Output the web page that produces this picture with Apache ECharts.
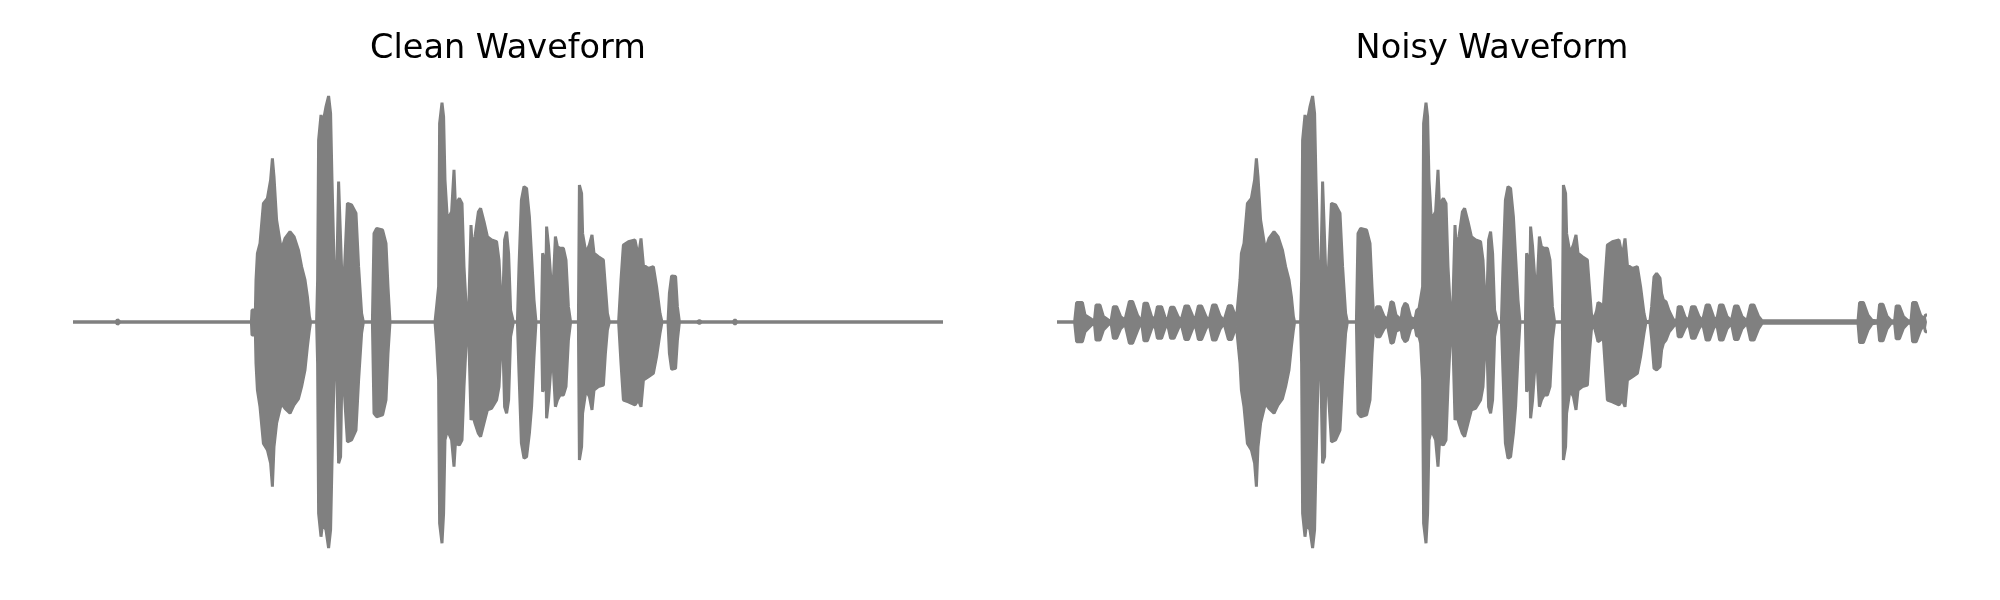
<!DOCTYPE html>
<html>
<head>
<meta charset="utf-8">
<script src="https://cdn.jsdelivr.net/npm/echarts@6/dist/echarts.min.js"></script>
<style>html,body{margin:0;padding:0;background:#fff}#c{width:2000px;height:600px}</style>
</head>
<body>
<div id="c"></div>
<script>
// Panel titles
const titles = ['Clean Waveform', 'Noisy Waveform'];

// Waveform envelopes: [time (s), upper amplitude, lower amplitude]
const cleanWave = [
[0.000,0,0],[0.215,0,0],[0.222,0.010,-0.010],[0.228,0.010,-0.010],[0.235,0,0],
[0.892,0,0],[0.895,0.053,-0.058],[0.912,0.053,-0.058],[0.915,0.186,-0.183],[0.922,0.304,-0.301],
[0.935,0.348,-0.375],[0.952,0.525,-0.537],[0.972,0.547,-0.566],[0.988,0.628,-0.625],[0.997,0.724,-0.729],
[1.005,0.643,-0.552],[1.018,0.451,-0.448],[1.042,0.319,-0.360],[1.060,0.370,-0.382],[1.085,0.400,-0.404],
[1.105,0.378,-0.367],[1.127,0.319,-0.340],[1.143,0.245,-0.286],[1.160,0.186,-0.212],[1.172,0.112,-0.109],
[1.182,0.024,-0.035],[1.188,0,0],
[1.218,0,0],[1.223,0.186,-0.183],[1.228,0.805,-0.847],[1.240,0.916,-0.950],[1.248,0.872,-0.891],
[1.265,0.953,-0.920],[1.278,1.000,-1.000],[1.288,0.923,-0.920],[1.295,0.628,-0.625],[1.305,0.274,-0.257],
[1.318,0.171,-0.168],[1.328,0.621,-0.625],[1.338,0.614,-0.596],[1.345,0.186,-0.198],[1.358,0.245,-0.330],
[1.372,0.525,-0.530],[1.393,0.518,-0.522],[1.415,0.481,-0.478],[1.428,0.245,-0.257],[1.443,0.038,-0.050],
[1.452,0,0],[1.497,0,0],[1.505,0.392,-0.404],[1.518,0.414,-0.419],[1.548,0.407,-0.411],
[1.565,0.348,-0.345],[1.575,0.156,-0.139],[1.585,0,0],[1.810,0,0],[1.818,0.068,-0.094],
[1.828,0.156,-0.257],[1.833,0.879,-0.891],[1.845,0.971,-0.979],[1.853,0.909,-0.847],[1.860,0.628,-0.522],
[1.872,0.451,-0.478],[1.893,0.488,-0.522],[1.905,0.673,-0.640],[1.912,0.518,-0.537],[1.932,0.547,-0.544],
[1.945,0.525,-0.522],[1.955,0.245,-0.286],[1.965,0.083,-0.109],[1.977,0,0],[1.985,0,0],
[1.990,0.429,-0.434],[1.997,0.319,-0.404],[2.010,0.378,-0.448],[2.027,0.488,-0.493],[2.038,0.503,-0.507],
[2.055,0.444,-0.448],[2.072,0.378,-0.389],[2.093,0.363,-0.382],[2.118,0.355,-0.345],[2.130,0.274,-0.286],
[2.140,0.097,-0.109],[2.148,0.053,-0.050],[2.158,0.363,-0.375],[2.168,0.400,-0.404],[2.178,0.304,-0.345],
[2.188,0.053,-0.065],[2.202,0,0],[2.222,0,0],[2.230,0.245,-0.227],[2.242,0.540,-0.537],
[2.255,0.599,-0.603],[2.268,0.591,-0.596],[2.282,0.466,-0.493],[2.293,0.289,-0.375],[2.305,0.097,-0.153],
[2.315,0,0],[2.342,0,0],[2.348,0.304,-0.308],[2.358,0.274,-0.286],[2.363,0.127,-0.139],
[2.368,0.422,-0.426],[2.378,0.333,-0.345],[2.393,0.142,-0.153],[2.402,0.186,-0.212],[2.412,0.378,-0.375],
[2.422,0.333,-0.345],[2.435,0.326,-0.323],[2.452,0.326,-0.323],[2.465,0.274,-0.286],[2.477,0.068,-0.080],
[2.488,0,0],[2.527,0,0],[2.532,0.606,-0.611],[2.543,0.569,-0.552],[2.548,0.392,-0.404],
[2.565,0.304,-0.301],[2.582,0.341,-0.330],[2.595,0.385,-0.389],[2.605,0.304,-0.301],[2.627,0.289,-0.286],
[2.652,0.274,-0.279],[2.662,0.156,-0.139],[2.672,0.038,-0.035],[2.682,0,0],[2.728,0,0],
[2.740,0.186,-0.183],[2.752,0.341,-0.345],[2.777,0.355,-0.353],[2.810,0.363,-0.367],[2.827,0.289,-0.345],
[2.840,0.370,-0.375],[2.852,0.252,-0.257],[2.877,0.237,-0.242],[2.902,0.245,-0.227],[2.918,0.156,-0.153],
[2.935,0.038,-0.050],[2.945,0,0],[2.975,0,0],[2.982,0.127,-0.139],[2.993,0.204,-0.209],
[3.013,0.201,-0.205],[3.022,0.068,-0.080],[3.032,0,0],[3.118,0,0],[3.132,0.006,-0.006],
[3.145,0,0],[3.300,0,0],[3.310,0.010,-0.010],[3.320,0,0],[4.350,0,0]
];

const noisyWave = [
[0.000,0,0],[0.088,0,0],[0.098,0.086,-0.087],[0.127,0.086,-0.087],[0.140,0.031,-0.043],
[0.173,0.012,-0.013],[0.187,0.005,-0.005],[0.195,0.075,-0.080],[0.215,0.075,-0.080],[0.232,0.024,-0.035],
[0.257,0.009,-0.012],[0.270,0.003,-0.003],[0.282,0.068,-0.072],[0.298,0.068,-0.072],[0.318,0.024,-0.030],
[0.340,0.009,-0.010],[0.348,0.003,-0.003],[0.362,0.091,-0.094],[0.378,0.091,-0.094],[0.402,0.031,-0.040],
[0.415,0.012,-0.012],[0.423,0.003,-0.003],[0.435,0.083,-0.083],[0.452,0.083,-0.083],[0.473,0.024,-0.030],
[0.488,0.008,-0.008],[0.495,0.003,-0.003],[0.502,0.068,-0.072],[0.523,0.068,-0.072],[0.540,0.021,-0.028],
[0.552,0.006,-0.006],[0.558,0.003,-0.003],[0.568,0.065,-0.072],[0.585,0.065,-0.072],[0.607,0.021,-0.028],
[0.620,0.006,-0.006],[0.628,0.003,-0.003],[0.640,0.071,-0.077],[0.657,0.071,-0.077],[0.678,0.027,-0.030],
[0.690,0.006,-0.006],[0.695,0.003,-0.003],[0.707,0.071,-0.077],[0.723,0.071,-0.077],[0.745,0.024,-0.030],
[0.760,0.006,-0.006],[0.768,0.003,-0.003],[0.778,0.075,-0.080],[0.795,0.075,-0.080],[0.815,0.027,-0.032],
[0.835,0.006,-0.006],[0.845,0.003,-0.003],[0.857,0.072,-0.077],[0.873,0.072,-0.077],[0.890,0.031,-0.035],
[0.898,0.020,-0.020],[0.902,0.060,-0.065],[0.912,0.060,-0.065],
[0.915,0.186,-0.183],[0.922,0.304,-0.301],[0.935,0.348,-0.375],[0.952,0.525,-0.537],[0.972,0.547,-0.566],
[0.988,0.628,-0.625],[0.997,0.724,-0.729],[1.005,0.643,-0.552],[1.018,0.451,-0.448],[1.042,0.319,-0.360],
[1.060,0.370,-0.382],[1.085,0.400,-0.404],[1.105,0.378,-0.367],[1.127,0.319,-0.340],[1.143,0.245,-0.286],
[1.160,0.186,-0.212],[1.172,0.112,-0.109],[1.182,0.024,-0.035],[1.188,0,0],[1.218,0,0],[1.223,0.186,-0.183],[1.228,0.805,-0.847],
[1.240,0.916,-0.950],[1.248,0.872,-0.891],[1.265,0.953,-0.920],[1.278,1.000,-1.000],[1.288,0.923,-0.920],
[1.295,0.628,-0.625],[1.305,0.274,-0.257],[1.318,0.171,-0.168],[1.328,0.621,-0.625],[1.338,0.614,-0.596],
[1.345,0.186,-0.198],[1.358,0.245,-0.330],[1.372,0.525,-0.530],[1.393,0.518,-0.522],[1.415,0.481,-0.478],
[1.428,0.245,-0.257],[1.443,0.038,-0.050],[1.452,0,0],[1.497,0,0],[1.505,0.392,-0.404],
[1.518,0.414,-0.419],[1.548,0.407,-0.411],[1.565,0.348,-0.345],[1.575,0.156,-0.139],
[1.585,0,0],[1.592,0.010,-0.010],[1.598,0.068,-0.065],[1.615,0.068,-0.065],[1.635,0.025,-0.030],
[1.652,0.010,-0.012],[1.660,0.040,-0.050],[1.670,0.090,-0.094],[1.682,0.085,-0.090],[1.695,0.030,-0.040],
[1.720,0.010,-0.030],[1.728,0.060,-0.070],[1.740,0.083,-0.087],[1.752,0.075,-0.080],[1.768,0.020,-0.030],
[1.790,0.012,-0.020],[1.798,0.050,-0.060],[1.810,0.060,-0.065],
[1.818,0.068,-0.094],[1.828,0.156,-0.257],[1.833,0.879,-0.891],[1.845,0.971,-0.979],[1.853,0.909,-0.847],
[1.860,0.628,-0.522],[1.872,0.451,-0.478],[1.893,0.488,-0.522],[1.905,0.673,-0.640],[1.912,0.518,-0.537],
[1.932,0.547,-0.544],[1.945,0.525,-0.522],[1.955,0.245,-0.286],[1.965,0.083,-0.109],[1.977,0,0],
[1.985,0,0],[1.990,0.429,-0.434],[1.997,0.319,-0.404],[2.010,0.378,-0.448],[2.027,0.488,-0.493],
[2.038,0.503,-0.507],[2.055,0.444,-0.448],[2.072,0.378,-0.389],[2.093,0.363,-0.382],[2.118,0.355,-0.345],
[2.130,0.274,-0.286],[2.140,0.097,-0.109],[2.148,0.053,-0.050],[2.158,0.363,-0.375],[2.168,0.400,-0.404],
[2.178,0.304,-0.345],[2.188,0.053,-0.065],[2.202,0,0],[2.222,0,0],[2.230,0.245,-0.227],
[2.242,0.540,-0.537],[2.255,0.599,-0.603],[2.268,0.591,-0.596],[2.282,0.466,-0.493],[2.293,0.289,-0.375],
[2.305,0.097,-0.153],[2.315,0,0],[2.342,0,0],[2.348,0.304,-0.308],[2.358,0.274,-0.286],
[2.363,0.127,-0.139],[2.368,0.422,-0.426],[2.378,0.333,-0.345],[2.393,0.142,-0.153],[2.402,0.186,-0.212],
[2.412,0.378,-0.375],[2.422,0.333,-0.345],[2.435,0.326,-0.323],[2.452,0.326,-0.323],[2.465,0.274,-0.286],
[2.477,0.068,-0.080],[2.488,0,0],[2.527,0,0],[2.532,0.606,-0.611],[2.543,0.569,-0.552],
[2.548,0.392,-0.404],[2.565,0.304,-0.301],[2.582,0.341,-0.330],[2.595,0.385,-0.389],[2.605,0.304,-0.301],
[2.627,0.289,-0.286],[2.652,0.274,-0.279],[2.662,0.156,-0.139],[2.672,0.038,-0.035],
[2.682,0.005,-0.005],[2.698,0.050,-0.060],[2.705,0.086,-0.087],[2.718,0.080,-0.080],[2.730,0.040,-0.050],
[2.740,0.186,-0.183],[2.752,0.341,-0.345],[2.777,0.355,-0.353],[2.810,0.363,-0.367],[2.827,0.289,-0.345],
[2.840,0.370,-0.375],[2.852,0.252,-0.257],[2.877,0.237,-0.242],[2.902,0.245,-0.227],[2.918,0.156,-0.153],
[2.935,0.038,-0.050],[2.945,0,0],
[2.965,0.005,-0.005],[2.973,0.068,-0.072],[2.985,0.200,-0.205],[2.998,0.215,-0.212],[3.015,0.194,-0.198],
[3.023,0.127,-0.124],[3.032,0.097,-0.094],[3.045,0.090,-0.080],[3.060,0.050,-0.045],[3.082,0.010,-0.020],
[3.098,0.005,-0.005],[3.106,0.068,-0.065],[3.122,0.068,-0.065],[3.140,0.022,-0.028],[3.158,0.006,-0.006],
[3.165,0.005,-0.005],[3.173,0.068,-0.072],[3.190,0.068,-0.072],[3.210,0.024,-0.030],[3.228,0.006,-0.006],
[3.238,0.005,-0.005],[3.246,0.075,-0.080],[3.262,0.075,-0.080],[3.282,0.024,-0.030],[3.298,0.006,-0.006],
[3.305,0.005,-0.005],[3.313,0.075,-0.080],[3.330,0.075,-0.080],[3.350,0.024,-0.030],[3.372,0.006,-0.006],
[3.380,0.005,-0.005],[3.388,0.071,-0.077],[3.405,0.071,-0.077],[3.425,0.024,-0.030],[3.450,0.006,-0.006],
[3.460,0.005,-0.005],[3.468,0.075,-0.080],[3.485,0.075,-0.080],[3.508,0.024,-0.030],[3.525,0.006,-0.006],
[3.535,0,0],[4.005,0.005,-0.005],[4.013,0.086,-0.091],[4.032,0.086,-0.091],[4.055,0.030,-0.035],
[4.075,0.008,-0.008],[4.105,0.005,-0.005],[4.113,0.078,-0.083],[4.130,0.078,-0.083],[4.150,0.025,-0.030],
[4.170,0.006,-0.006],[4.188,0.005,-0.005],[4.196,0.071,-0.074],[4.212,0.071,-0.074],[4.232,0.024,-0.028],
[4.255,0.006,-0.006],[4.270,0.005,-0.005],[4.278,0.086,-0.087],[4.296,0.086,-0.087],[4.318,0.030,-0.035],
[4.335,0.012,-0.012],[4.342,0.031,-0.043],[4.350,0.031,-0.043]
];

const timeMax = 4.35;
const ampRange = [-1, 1];

const chart = echarts.init(document.getElementById('c'), null, {renderer: 'canvas'});
const gray = '#808080';
const panelLeft = [73, 1057];
const panelWidth = 870;

function envSeries(wave, idx, col) {
  return {
    type: 'line', xAxisIndex: idx, yAxisIndex: idx,
    data: wave.map(p => [p[0], p[col]]),
    symbol: 'none', showSymbol: false, silent: true, smooth: false,
    lineStyle: {color: gray, width: 3, join: 'bevel'},
    areaStyle: {color: gray, opacity: 1},
    z: 2
  };
}

const titleStyle = {fontFamily: 'DejaVu Sans', fontSize: 33.5, fontWeight: 'normal', color: '#000'};

chart.setOption({
  animation: false,
  backgroundColor: '#fff',
  title: titles.map((t, i) => ({
    text: t, left: panelLeft[i] + panelWidth / 2 - 5, top: 27, textAlign: 'center', textStyle: titleStyle
  })),
  grid: panelLeft.map(l => ({left: l, width: panelWidth, top: 96, height: 452})),
  xAxis: [0, 1].map(i => ({type: 'value', gridIndex: i, min: 0, max: timeMax, show: false})),
  yAxis: [0, 1].map(i => ({type: 'value', gridIndex: i, min: ampRange[0], max: ampRange[1], show: false})),
  series: [
    envSeries(cleanWave, 0, 1), envSeries(cleanWave, 0, 2),
    envSeries(noisyWave, 1, 1), envSeries(noisyWave, 1, 2)
  ]
});
</script>
</body>
</html>
